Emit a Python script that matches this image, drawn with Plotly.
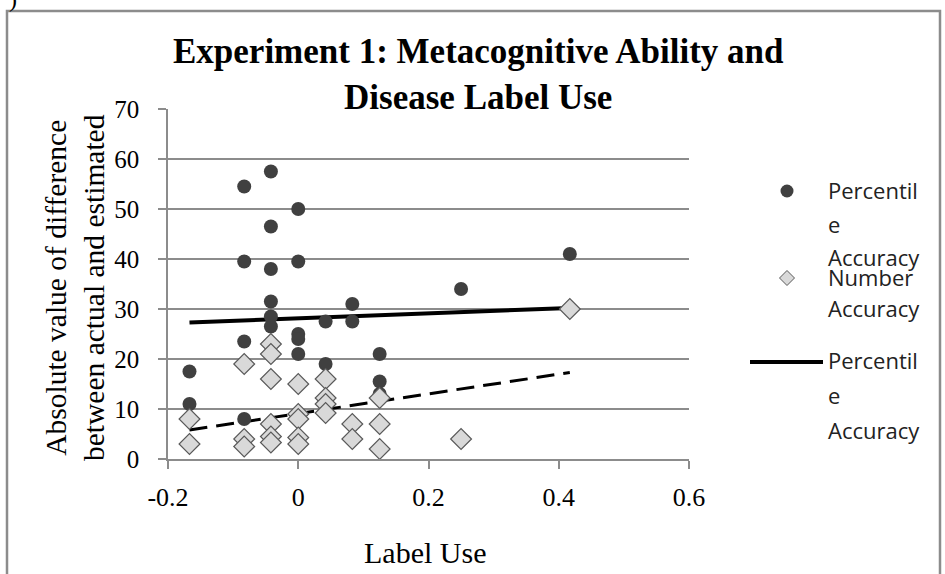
import plotly.graph_objects as go

# ---------------- data ----------------
pct_x = [-0.167, -0.167,
         -0.083, -0.083, -0.083, -0.083,
         -0.042, -0.042, -0.042, -0.042, -0.042, -0.042,
         0.0, 0.0, 0.0, 0.0, 0.0,
         0.042, 0.042, 0.042,
         0.083, 0.083,
         0.125, 0.125, 0.125,
         0.25, 0.417]
pct_y = [17.5, 11,
         54.5, 39.5, 23.5, 8,
         57.5, 46.5, 38, 31.5, 28.5, 26.5,
         50, 39.5, 25, 24, 21,
         27.5, 19, 9,
         31, 27.5,
         21, 15.5, 13,
         34, 41]

num_x = [-0.167, -0.167,
         -0.083, -0.083, -0.083,
         -0.042, -0.042, -0.042, -0.042, -0.042, -0.042,
         0.0, 0.0, 0.0, 0.0, 0.0,
         0.042, 0.042, 0.042, 0.042,
         0.083, 0.083,
         0.125, 0.125, 0.125,
         0.25, 0.417]
num_y = [8, 3,
         19, 4, 2.5,
         23, 21, 16, 7, 4.5, 3.3,
         15, 9, 8, 4.3, 3,
         16, 12.2, 11, 9.2,
         7, 4,
         12.2, 7, 2,
         4, 30]

trend_x = [-0.167, 0.417]
pct_trend_y = [27.3, 30.2]
num_trend_y = [5.8, 17.3]

x_ticks = [-0.2, 0, 0.2, 0.4, 0.6]
x_tick_text = ["-0.2", "0", "0.2", "0.4", "0.6"]
y_ticks = [0, 10, 20, 30, 40, 50, 60, 70]

title_text = "Experiment 1: Metacognitive Ability and<br>Disease Label Use"
x_title = "Label Use"
y_title = "Absolute value of difference<br>between actual and estimated"
legend_lines = ["Percentil", "e", "Accuracy", "Number", "Accuracy", "Percentil", "e", "Accuracy"]

# ---------------- layout geometry ----------------
W, H = 945, 574
L, R, T, B = 168, 256, 109, 115
PW, PH = W - L - R, H - T - B


def px(x):
    return (x - L) / PW


def py(y):
    return (H - B - y) / PH


SERIF = "Liberation Serif, Times New Roman, serif"
SANS = "Open Sans, Liberation Sans, sans-serif"

fig = go.Figure()

fig.add_trace(go.Scatter(
    x=trend_x, y=pct_trend_y, mode="lines",
    line=dict(color="black", width=4), showlegend=False, hoverinfo="skip"))
fig.add_trace(go.Scatter(
    x=trend_x, y=num_trend_y, mode="lines",
    line=dict(color="black", width=3, dash="18px,9px"), showlegend=False, hoverinfo="skip"))
fig.add_trace(go.Scatter(
    x=pct_x, y=pct_y, mode="markers", name="Percentile Accuracy",
    marker=dict(symbol="circle", size=14, color="#404040", line=dict(width=0)),
    showlegend=False))
fig.add_trace(go.Scatter(
    x=num_x, y=num_y, mode="markers", name="Number Accuracy",
    marker=dict(symbol="diamond", size=16, color="#d9d9d9",
                line=dict(color="#595959", width=1.2)),
    showlegend=False))

shapes = []
# outer frame
shapes.append(dict(type="rect", xref="paper", yref="paper",
                   x0=px(7), x1=px(940), y0=py(580), y1=py(11),
                   line=dict(color="#8c8c8c", width=2.5), fillcolor="rgba(0,0,0,0)", layer="below"))
# legend symbols
cx, cy, r = 787, 191, 6.5
shapes.append(dict(type="circle", xref="paper", yref="paper",
                   x0=px(cx - r), x1=px(cx + r), y0=py(cy + r), y1=py(cy - r),
                   fillcolor="#404040", line=dict(width=0)))
dx, dy, d = 787, 278, 7.5
shapes.append(dict(type="path", xref="paper", yref="paper",
                   path=f"M {px(dx - d)} {py(dy)} L {px(dx)} {py(dy - d)} L {px(dx + d)} {py(dy)} L {px(dx)} {py(dy + d)} Z",
                   fillcolor="#d9d9d9", line=dict(color="#595959", width=1)))
shapes.append(dict(type="line", xref="paper", yref="paper",
                   x0=px(750), x1=px(823), y0=py(362), y1=py(362),
                   line=dict(color="black", width=4)))

annotations = []
annotations.append(dict(text=title_text, xref="paper", yref="paper",
                        x=px(478), y=py(75), xanchor="center", yanchor="middle",
                        showarrow=False, align="center",
                        font=dict(family=SERIF, size=35, color="black", weight="bold")))
annotations.append(dict(text=x_title, xref="paper", yref="paper",
                        x=px(425), y=py(552), xanchor="center", yanchor="middle",
                        showarrow=False, font=dict(family=SERIF, size=30, color="black")))
annotations.append(dict(text=y_title, xref="paper", yref="paper",
                        x=px(75), y=py(288), xanchor="center", yanchor="middle",
                        textangle=-90, showarrow=False, align="center",
                        font=dict(family=SERIF, size=29.5, color="black")))
legend_y = [190, 224, 257, 277, 308, 360, 395, 430]
for txt, yy in zip(legend_lines, legend_y):
    annotations.append(dict(text=txt, xref="paper", yref="paper",
                            x=px(826), y=py(yy), xanchor="left", yanchor="middle",
                            showarrow=False, font=dict(family=SANS, size=22, color="#222222")))
annotations.append(dict(text=")", xref="paper", yref="paper",
                        x=px(13), y=py(14), xanchor="center", yanchor="bottom",
                        showarrow=False, font=dict(family=SERIF, size=24, color="black")))

fig.update_layout(
    width=W, height=H,
    margin=dict(l=L, r=R, t=T, b=B, pad=0),
    paper_bgcolor="white", plot_bgcolor="white",
    showlegend=False,
    shapes=shapes, annotations=annotations,
    xaxis=dict(range=[-0.2, 0.6], tickvals=x_ticks, ticktext=x_tick_text,
               showgrid=False, zeroline=False, showline=True, linecolor="#8c8c8c", linewidth=1.5,
               ticks="outside", ticklen=8, tickcolor="#8c8c8c", tickwidth=1.5,
               ticklabelstandoff=6,
               tickfont=dict(family=SERIF, size=26, color="black")),
    yaxis=dict(range=[0, 70], tickvals=y_ticks,
               showgrid=True, gridcolor="#8c8c8c", gridwidth=1.5, zeroline=False,
               showline=True, linecolor="#8c8c8c", linewidth=1.5,
               ticks="outside", ticklen=8, tickcolor="#8c8c8c", tickwidth=1.5,
               ticklabelstandoff=14,
               tickfont=dict(family=SERIF, size=25, color="black")),
)

fig.write_html("out.html")
